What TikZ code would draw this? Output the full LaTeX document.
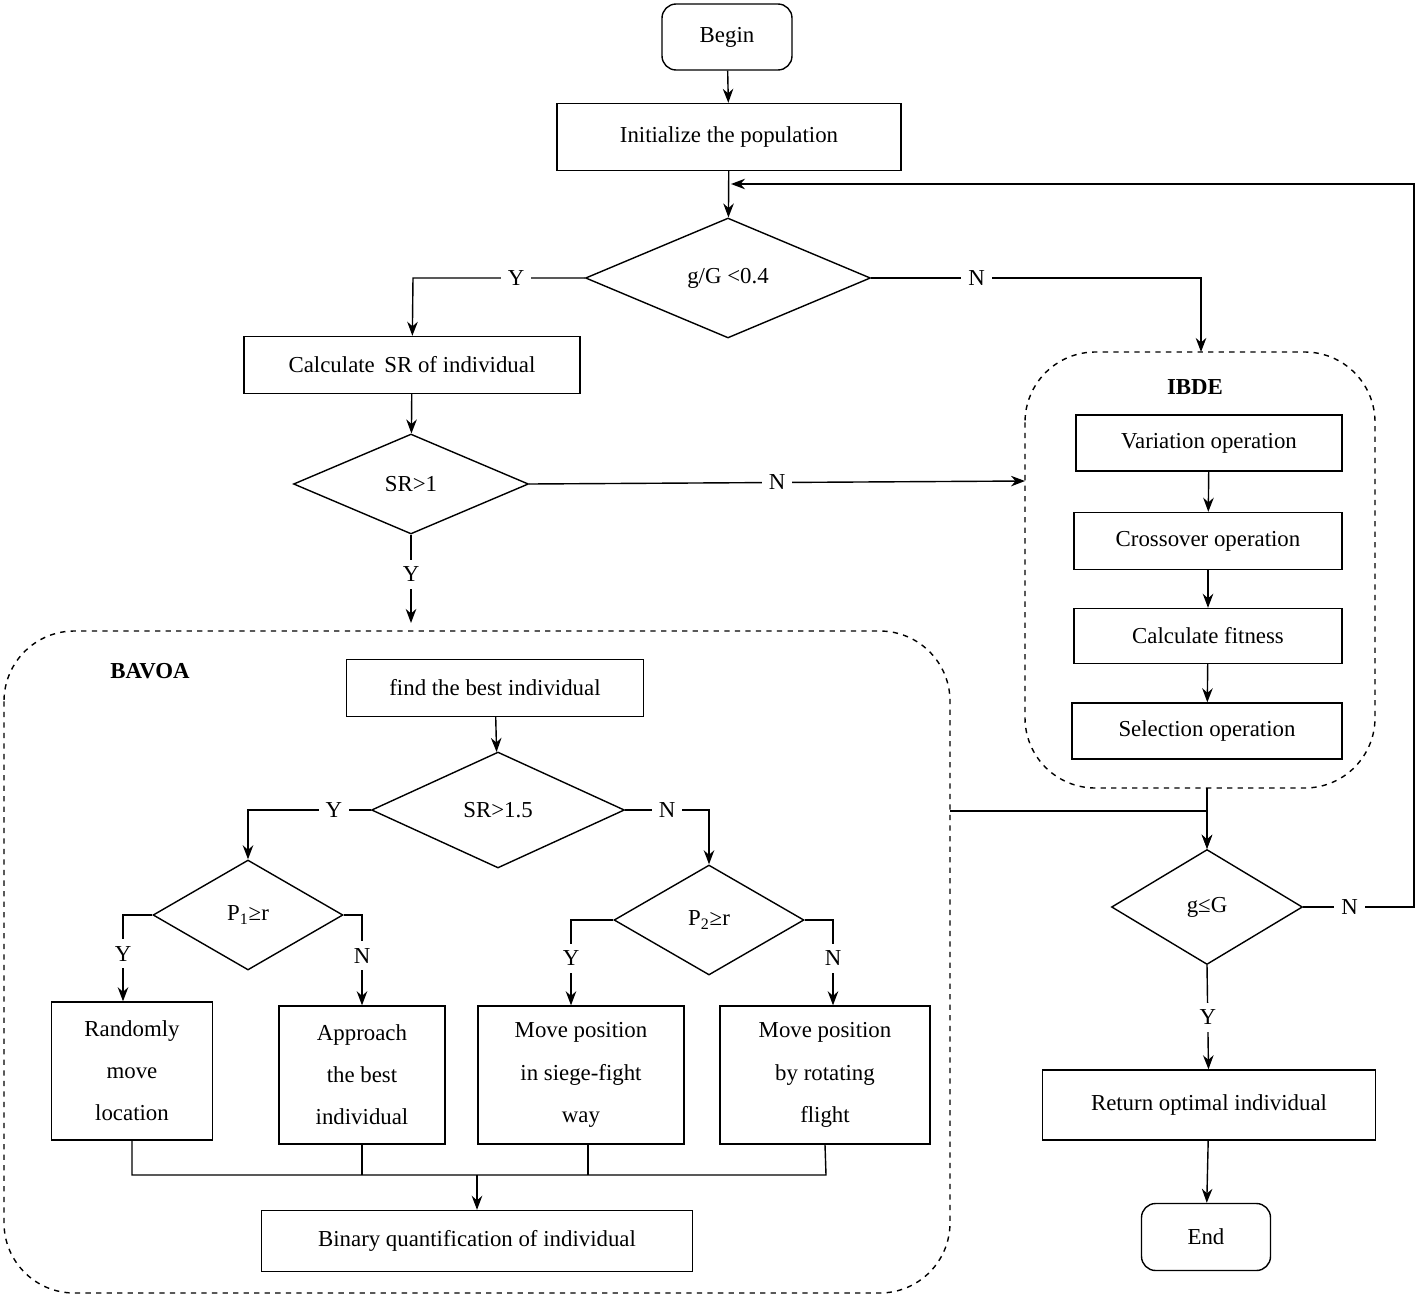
\documentclass[tikz,border=0pt]{standalone}
\usepackage{fontspec}
\setmainfont{Liberation Serif}
\usetikzlibrary{shapes.geometric,arrows.meta}
\tikzset{
  box/.style={draw, thick, align=center, inner sep=0pt},
  term/.style={box, rounded corners=8pt},
  dec/.style={draw, thick, diamond, inner sep=0pt, aspect=2.2},
  lbl/.style={fill=white, inner sep=4pt},
  grp/.style={draw, thick, dashed, rounded corners=40pt},
  arr/.style={thick, -{Stealth[length=8pt,width=6pt]}},
  ln/.style={thick}
}
\begin{document}
\begin{tikzpicture}[x=0.02cm, y=-0.02cm, font=\fontsize{13}{24}\selectfont]
    \useasboundingbox (0,0) rectangle (1416,1298);

    % Groups
    \draw[grp] (1025,352) rectangle (1375,788);
    \draw[grp] (4,631) rectangle (950,1293);
    \node[font=\fontsize{13}{16}\selectfont\bfseries] at (1195,387) {IBDE};
    \node[font=\fontsize{13}{16}\selectfont\bfseries] at (150,671) {BAVOA};
    \coordinate (ibdeT) at (1201,352);
    \coordinate (ibdeL) at (1025,481);
    \coordinate (ibdeB) at (1207,788);
    \coordinate (bavR) at (950,811);

    % Main flow
    \node[term, minimum width=2.6cm, minimum height=1.32cm] (begin) at (727,37) {Begin};
    \node[box, minimum width=6.88cm, minimum height=1.34cm] (init) at (729,137) {Initialize the population};
    \node[dec, minimum width=5.7cm, minimum height=2.4cm] (ratio) at (728,278) {g/G <0.4};
    \node[box, minimum width=6.72cm, minimum height=1.14cm] (calc) at (412,365) {Calculate\, SR of individual};
    \node[dec, minimum width=4.7cm, minimum height=2cm] (sr) at (411,484) {SR>1};

    % IBDE
    \node[box, minimum width=5.32cm, minimum height=1.12cm] (var) at (1209,443) {Variation operation};
    \node[box, minimum width=5.36cm, minimum height=1.14cm] (cross) at (1208,541) {Crossover operation};
    \node[box, minimum width=5.36cm, minimum height=1.1cm] (fit) at (1208,636) {Calculate fitness};
    \node[box, minimum width=5.4cm, minimum height=1.12cm] (sel) at (1207,731) {Selection operation};

    % BAVOA
    \node[box, minimum width=5.94cm, minimum height=1.14cm] (best) at (495,688) {find the best individual};
    \node[dec, minimum width=5.06cm, minimum height=2.32cm] (sra) at (498,810) {SR>1.5};
    \node[dec, minimum width=3.8cm, minimum height=2.2cm] (pa) at (248,915) {P\textsubscript{1}≥r};
    \node[dec, minimum width=3.8cm, minimum height=2.2cm] (pb) at (709,920) {P\textsubscript{2}≥r};
    \node[box, minimum width=3.22cm, minimum height=2.76cm] (rand) at (132,1071) {Randomly\\move\\location};
    \node[box, minimum width=3.32cm, minimum height=2.76cm] (appr) at (362,1075) {Approach\\the best\\individual};
    \node[box, minimum width=4.12cm, minimum height=2.76cm] (siege) at (581,1075) {Move position\\in siege-fight\\way};
    \node[box, minimum width=4.2cm, minimum height=2.76cm] (rot) at (825,1075) {Move position\\by rotating\\flight};
    \node[box, minimum width=8.62cm, minimum height=1.22cm] (bin) at (477,1241) {Binary quantification of individual};

    % End part
    \node[dec, minimum width=3.82cm, minimum height=2.3cm] (gg) at (1207,907) {g≤G};
    \node[box, minimum width=6.66cm, minimum height=1.4cm] (ret) at (1209,1105) {Return optimal individual};
    \node[term, minimum width=2.58cm, minimum height=1.34cm] (end) at (1206,1237) {End};

    % Connectors
    \draw[arr] (begin) -- (init);
    \draw[arr] (init) -- (ratio);
    \draw[arr] (ratio.west) -- node[lbl, pos=0.4] {Y} (413,278) -- (calc);
    \draw[arr] (ratio.east) -- node[lbl, pos=0.32] {N} (1201,278) -- (ibdeT);
    \draw[arr] (calc) -- (sr);
    \draw[arr] (sr.east) -- node[lbl] {N} (ibdeL);
    \draw[arr] (sr.south) -- node[lbl, pos=0.45] {Y} (411,623);
    \draw[arr] (var) -- (cross);
    \draw[arr] (cross) -- (fit);
    \draw[arr] (fit) -- (sel);
    \draw[arr] (best) -- (sra);
    \draw[arr] (sra.west) -- node[lbl, pos=0.3] {Y} (248,810) -- (pa);
    \draw[arr] (sra.east) -- node[lbl, pos=0.5] {N} (709,810) -- (pb);
    \draw[arr] (pa.west) -- (123,915) -- node[lbl, pos=0.45] {Y} (rand.north -| 123,0);
    \draw[arr] (pa.east) -- (362,915) -- node[lbl, pos=0.45] {N} (appr);
    \draw[arr] (pb.west) -- (571,920) -- node[lbl, pos=0.45] {Y} (siege.north -| 571,0);
    \draw[arr] (pb.east) -- (833,920) -- node[lbl, pos=0.45] {N} (rot.north -| 833,0);
    \draw[ln] (rand.south) |- (826,1175) -- (rot.south);
    \draw[ln] (appr.south) -- (362,1175);
    \draw[ln] (siege.south -| 588,0) -- (588,1175);
    \draw[arr] (477,1175) -- (bin);
    \draw[arr] (bavR) -- (1207,811) -- (gg.north);
    \draw[arr] (ibdeB) -- (gg.north);
    \draw[arr] (gg.east) -- node[lbl, pos=0.42] {N} (1414,907) -- (1414,184) -- (731,184);
    \draw[arr] (gg.south) -- node[lbl] {Y} (ret);
    \draw[arr] (ret) -- (end);
\end{tikzpicture}
\end{document}
